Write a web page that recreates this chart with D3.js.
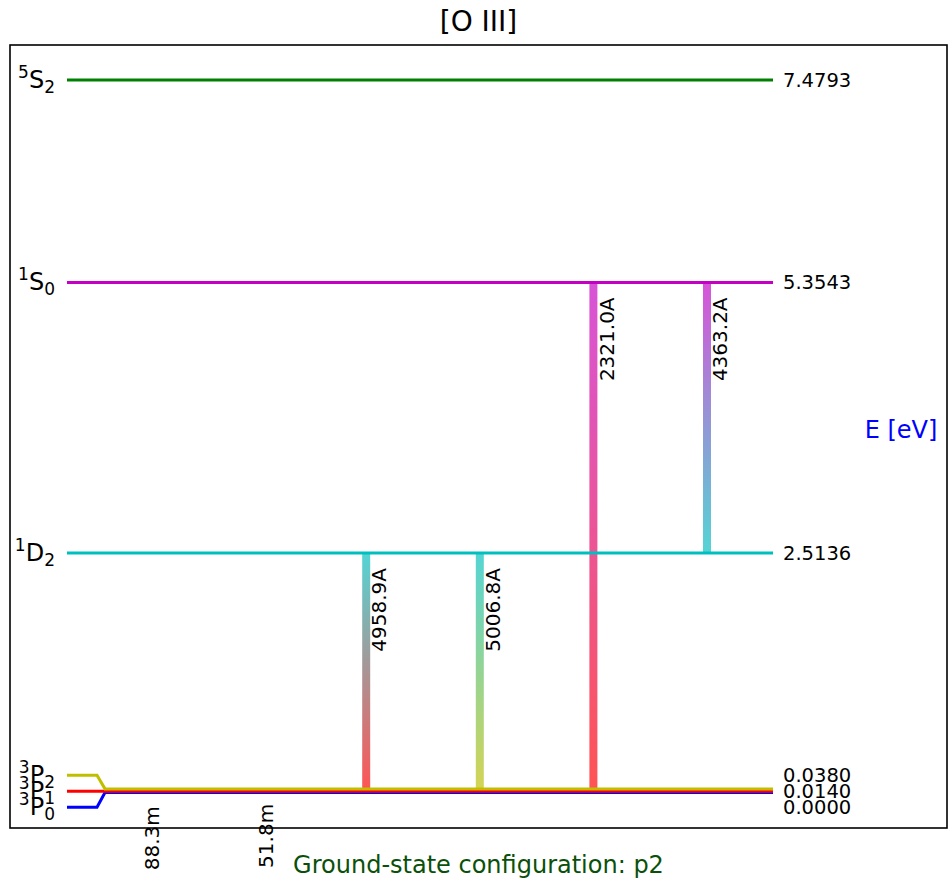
<!DOCTYPE html>
<html>
<head>
<meta charset="utf-8">
<script src="https://cdn.jsdelivr.net/npm/d3@7"></script>
<style>
  body { margin: 0; background: #fff; }
  text { font-family: "DejaVu Sans", sans-serif; }
</style>
</head>
<body>
<div id="chart"></div>
<script>
// levels of [O III] (index order = energy order)
var levelMult   = [3, 3, 3, 1, 1, 5];
var levelTerm   = ["P", "P", "P", "D", "S", "S"];
var levelJ      = [0, 1, 2, 2, 0, 2];
var levelEnergy = [0.0000, 0.0140, 0.0380, 2.5136, 5.3543, 7.4793];
var levelColors = ["#0000ff", "#ff0000", "#bfbf00", "#00bfbf", "#c400c4", "#008000"];

// transitions (upper / lower are level indices)
var transLabel = ["88.3m", "51.8m", "4958.9A", "5006.8A", "2321.0A", "4363.2A"];
var transUpper = [1, 2, 3, 3, 4, 4];
var transLower = [0, 1, 1, 2, 1, 3];

var titleText = "[O III]";
var xLabelText = "Ground-state configuration: p2";
var yLabelText = "E [eV]";

var width = 948, height = 882;
var frame = {left: 10, top: 45, right: 947, bottom: 828};
var lineX0 = 67, lineX1 = 773, kinkX0 = 97, kinkX1 = 105;
var spread = 16;

var svg = d3.select("#chart").append("svg")
  .attr("width", width)
  .attr("height", height);

var levelIdx = d3.range(levelEnergy.length);
var transIdx = d3.range(transLabel.length);

var yScale = d3.scaleLinear()
  .domain([0, d3.max(levelEnergy)])
  .range([792.5, 80]);

var xScale = d3.scalePoint()
  .domain(transIdx)
  .range([139, 707]);

var color = d3.scaleOrdinal()
  .domain(levelIdx)
  .range(levelColors);

// display position: levels of the same term get spread apart
var termKey = levelIdx.map(function(i) { return levelMult[i] + levelTerm[i]; });
var dispY = levelIdx.map(function(i) {
  var grp = levelIdx.filter(function(j) { return termKey[j] == termKey[i]; })
    .sort(function(a, b) { return levelEnergy[a] - levelEnergy[b]; });
  if (grp.length < 2) return yScale(levelEnergy[i]);
  var mid = (grp.length - 1) / 2;
  var midY = d3.mean([grp[Math.floor(mid)], grp[Math.ceil(mid)]], function(j) { return yScale(levelEnergy[j]); });
  return midY + (mid - grp.indexOf(i)) * spread;
});

// frame
svg.append("rect")
  .attr("x", frame.left).attr("y", frame.top)
  .attr("width", frame.right - frame.left)
  .attr("height", frame.bottom - frame.top)
  .attr("fill", "none")
  .attr("stroke", "#000")
  .attr("stroke-width", 1.6);

// gradients for transitions
var defs = svg.append("defs");
transIdx.forEach(function(t) {
  var g = defs.append("linearGradient")
    .attr("id", "grad" + t)
    .attr("gradientUnits", "userSpaceOnUse")
    .attr("x1", 0).attr("x2", 0)
    .attr("y1", yScale(levelEnergy[transUpper[t]]))
    .attr("y2", yScale(levelEnergy[transLower[t]]));
  g.append("stop").attr("offset", "0%")
    .attr("stop-color", color(transUpper[t])).attr("stop-opacity", 0.67);
  g.append("stop").attr("offset", "100%")
    .attr("stop-color", color(transLower[t])).attr("stop-opacity", 0.67);
});

// transition bars
svg.append("g").selectAll("rect")
  .data(transIdx)
  .enter()
  .append("rect")
  .attr("x", function(t) { return xScale(t) - 4; })
  .attr("width", 8)
  .attr("y", function(t) { return yScale(levelEnergy[transUpper[t]]); })
  .attr("height", function(t) {
    return yScale(levelEnergy[transLower[t]]) - yScale(levelEnergy[transUpper[t]]);
  })
  .attr("fill", function(t) { return "url(#grad" + t + ")"; });

// transition labels
svg.append("g").selectAll("text")
  .data(transIdx)
  .enter()
  .append("text")
  .attr("transform", function(t) {
    return "translate(" + (xScale(t) + 13) + "," + (yScale(levelEnergy[transUpper[t]]) + 15) + ") rotate(-90)";
  })
  .attr("text-anchor", "end")
  .attr("dy", "0.36em")
  .style("font-size", "20px")
  .text(function(t) { return transLabel[t]; });

// level lines (low energy first, so higher ones sit on top)
var line = d3.line();
svg.append("g").selectAll("path")
  .data(levelIdx)
  .enter()
  .append("path")
  .attr("fill", "none")
  .attr("stroke", function(i) { return color(i); })
  .attr("stroke-width", 3)
  .attr("d", function(i) {
    var yE = yScale(levelEnergy[i]);
    return line([[lineX0, dispY[i]], [kinkX0, dispY[i]], [kinkX1, yE], [lineX1, yE]]);
  });

// level names on the left
var names = svg.append("g").selectAll("text")
  .data(levelIdx)
  .enter()
  .append("text")
  .attr("x", 55)
  .attr("y", function(i) { return dispY[i] + 8; })
  .attr("text-anchor", "end")
  .style("font-size", "24px");
names.append("tspan")
  .attr("dy", -10)
  .style("font-size", "17px")
  .text(function(i) { return levelMult[i]; });
names.append("tspan")
  .attr("dy", 10)
  .text(function(i) { return levelTerm[i]; });
names.append("tspan")
  .attr("dy", 5)
  .style("font-size", "17px")
  .text(function(i) { return levelJ[i]; });

// energy values on the right
var fmt = d3.format(".4f");
svg.append("g").selectAll("text")
  .data(levelIdx)
  .enter()
  .append("text")
  .attr("x", 783)
  .attr("y", function(i) { return dispY[i]; })
  .attr("dy", "0.36em")
  .style("font-size", "19.5px")
  .text(function(i) { return fmt(levelEnergy[i]); });

// title and axis labels
svg.append("text")
  .attr("x", (frame.left + frame.right) / 2)
  .attr("y", 31)
  .attr("text-anchor", "middle")
  .style("font-size", "28px")
  .text(titleText);

svg.append("text")
  .attr("x", (frame.left + frame.right) / 2)
  .attr("y", 873)
  .attr("text-anchor", "middle")
  .style("font-size", "24px")
  .attr("fill", "#0a500a")
  .text(xLabelText);

svg.append("text")
  .attr("x", 901)
  .attr("y", 438)
  .attr("text-anchor", "middle")
  .style("font-size", "24px")
  .attr("fill", "#0000ff")
  .text(yLabelText);
</script>
</body>
</html>
